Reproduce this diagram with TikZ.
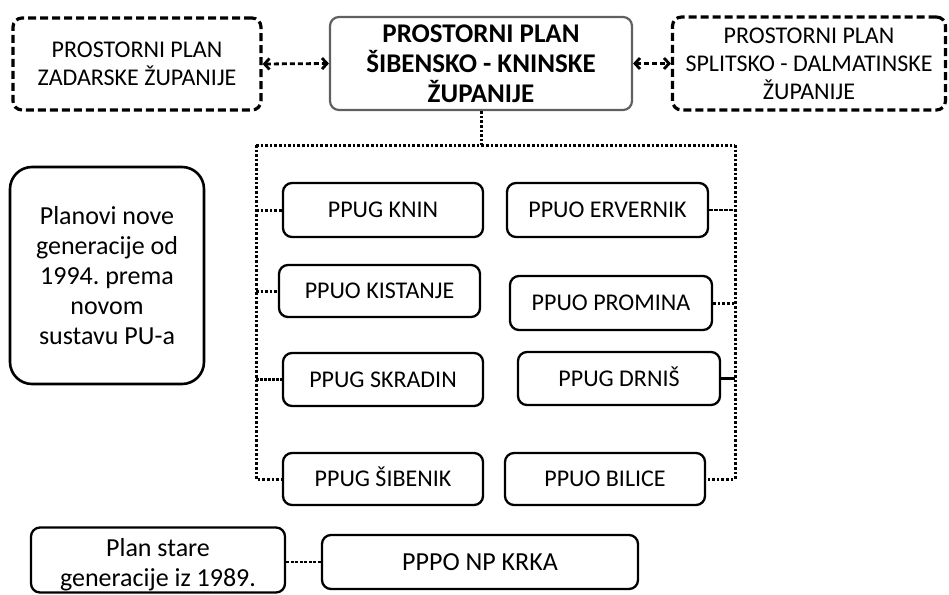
\documentclass[tikz,border=0pt]{standalone}
\usepackage{fontspec}
\setmainfont{Carlito}
\frenchspacing
\usetikzlibrary{arrows.meta}
\tikzset{
  box/.style={draw=black, line width=2.3pt, rounded corners=9pt, inner sep=0pt, align=center, font=\fontsize{24}{28}\selectfont},
  onebox/.style={box, text height=15.5pt, text depth=0pt},
  dbox/.style={box, line width=3.2pt, dash pattern=on 8pt off 4pt, font=\fontsize{24}{28}\selectfont},
  mainbox/.style={box, draw=gray!75!black, line width=2.2pt, font=\fontsize{27}{30}\selectfont\bfseries},
  bigbox/.style={box, line width=2.6pt, rounded corners=22pt, font=\fontsize{26}{30}\selectfont},
  oldbox/.style={box, font=\fontsize{26}{30}\selectfont},
  dotline/.style={line width=3pt, dash pattern=on 2.6pt off 2pt},
  arr/.style={line width=2.8pt, dash pattern=on 5pt off 3pt, {Straight Barb[length=5pt,width=11pt,line width=2.8pt]}-{Straight Barb[length=5pt,width=11pt,line width=2.8pt]}},
}
\begin{document}
\begin{tikzpicture}[x=1pt,y=-1pt]
\useasboundingbox[fill=white] (0,0) rectangle (949,594);
% top row
\node[dbox, minimum width=248pt, minimum height=92pt] (zadar) at (137,64) {PROSTORNI PLAN\\ZADARSKE ŽUPANIJE};
\node[mainbox, minimum width=302pt, minimum height=93pt] (sk) at (481,63.5) {PROSTORNI PLAN\\ŠIBENSKO - KNINSKE\\ŽUPANIJE};
\node[dbox, minimum width=273pt, minimum height=93pt] (split) at (809,63.5) {PROSTORNI PLAN\\SPLITSKO - DALMATINSKE\\ŽUPANIJE};
\draw[arr] (zadar.east) -- (sk.west);
\draw[arr] (sk.east) -- (split.west);
% left description
\node[bigbox, minimum width=194pt, minimum height=217pt] (planovi) at (107,275.5) {Planovi nove\\generacije od\\1994. prema\\novom\\sustavu PU-a};
% plan boxes
\node[onebox, minimum width=200pt, minimum height=54pt] (knin) at (383,210) {PPUG KNIN};
\node[onebox, minimum width=201pt, minimum height=54pt] (ervernik) at (607.5,210) {PPUO ERVERNIK};
\node[onebox, minimum width=201pt, minimum height=52pt] (kistanje) at (379.5,291) {PPUO KISTANJE};
\node[onebox, minimum width=202pt, minimum height=54pt] (promina) at (611,303) {PPUO PROMINA};
\node[onebox, minimum width=200pt, minimum height=53pt] (skradin) at (383,379.5) {PPUG SKRADIN};
\node[onebox, minimum width=202pt, minimum height=53pt] (drnis) at (619,378.5) {PPUG DRNIŠ};
\node[onebox, minimum width=200pt, minimum height=52pt] (sibenik) at (383,479) {PPUG ŠIBENIK};
\node[onebox, minimum width=200pt, minimum height=52pt] (bilice) at (605,479) {PPUO BILICE};
% bottom
\node[oldbox, minimum width=254pt, minimum height=65pt] (stare) at (158,560) {\rule{0pt}{28pt}Plan stare\\generacije iz 1989.};
\node[oldbox, text height=17pt, text depth=0pt, minimum width=316pt, minimum height=54pt] (krka) at (480,562) {PPPO NP KRKA};
% tree connectors
\coordinate (ctop) at (481,145);
\coordinate (tl) at (256,145);
\coordinate (tr) at (735,145);
\draw[dotline] (sk.south) -- (ctop);
\draw[dotline] (tl) -- (tr);
\draw[dotline] (tl) |- (sibenik.west);
\draw[dotline] (tr) |- (bilice.east);
\draw[dotline] (tl |- knin.west) -- (knin.west);
\draw[dotline] (tl |- kistanje.west) -- (kistanje.west);
\draw[line width=2.6pt, dash pattern=on 3pt off 1pt] (tl |- skradin.west) -- (skradin.west);
\draw[line width=2.6pt, dash pattern=on 4pt off 1pt] (ervernik.east) -- (tr |- ervernik.east);
\draw[dotline] (promina.east) -- (tr |- promina.east);
\draw[line width=2.6pt] (drnis.east) -- (tr |- drnis.east);
\draw[line width=1.3pt, dash pattern=on 3pt off 1.5pt] (stare.east |- krka.west) -- (krka.west);
\end{tikzpicture}
\end{document}
